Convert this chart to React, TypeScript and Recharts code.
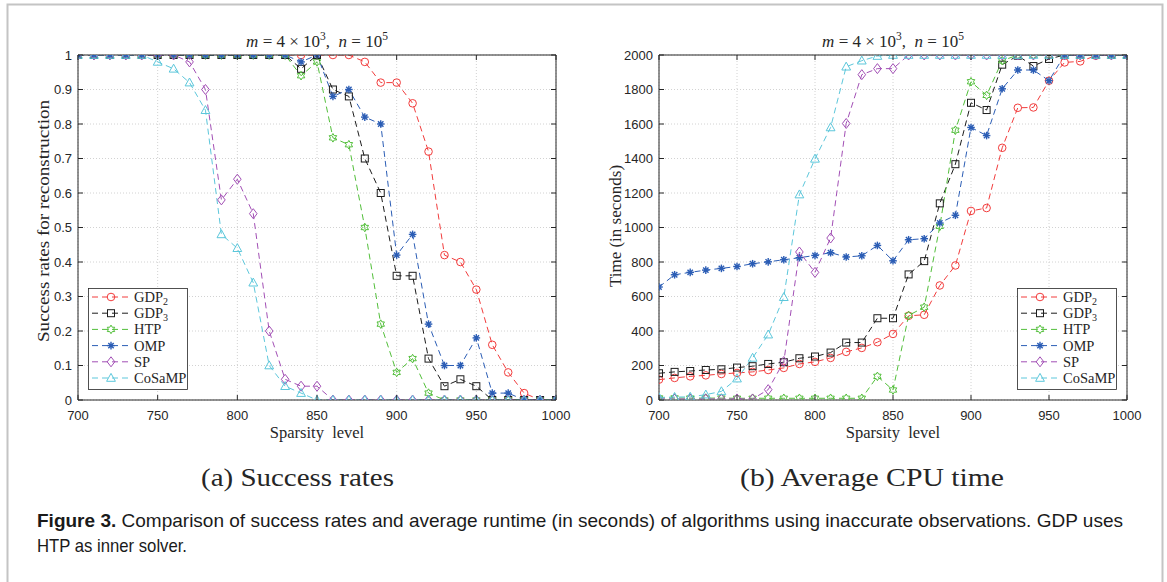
import React from 'react';
import { LineChart, Line, XAxis, YAxis, CartesianGrid } from 'recharts';

// ---------------- data ----------------
const sparsity = [700, 710, 720, 730, 740, 750, 760, 770, 780, 790, 800, 810, 820, 830, 840, 850, 860, 870, 880, 890, 900, 910, 920, 930, 940, 950, 960, 970, 980, 990, 1000];

const successGDP2 = [1, 1, 1, 1, 1, 1, 1, 1, 1, 1, 1, 1, 1, 1, 1, 1, 1, 1, 0.98, 0.92, 0.92, 0.86, 0.72, 0.42, 0.4, 0.32, 0.16, 0.08, 0.02, 0, 0];
const successGDP3 = [1, 1, 1, 1, 1, 1, 1, 1, 1, 1, 1, 1, 1, 1, 0.96, 1, 0.9, 0.88, 0.7, 0.6, 0.36, 0.36, 0.12, 0.04, 0.06, 0.04, 0, 0, 0, 0, 0];
const successHTP = [1, 1, 1, 1, 1, 1, 1, 1, 1, 1, 1, 1, 1, 1, 0.94, 0.98, 0.76, 0.74, 0.5, 0.22, 0.08, 0.12, 0.02, 0, 0, 0, 0, 0, 0, 0, 0];
const successOMP = [1, 1, 1, 1, 1, 1, 1, 1, 1, 1, 1, 1, 1, 1, 0.98, 1, 0.88, 0.9, 0.82, 0.8, 0.42, 0.48, 0.22, 0.1, 0.1, 0.18, 0.02, 0.02, 0, 0, 0];
const successSP = [1, 1, 1, 1, 1, 1, 1, 0.98, 0.9, 0.58, 0.64, 0.54, 0.2, 0.06, 0.04, 0.04, 0, 0, 0, 0, 0, 0, 0, 0, 0, 0, 0, 0, 0, 0, 0];
const successCoSaMP = [1, 1, 1, 1, 1, 0.98, 0.96, 0.92, 0.84, 0.48, 0.44, 0.34, 0.1, 0.04, 0.02, 0, 0, 0, 0, 0, 0, 0, 0, 0, 0, 0, 0, 0, 0, 0, 0];

const timeGDP2 = [118, 128, 137, 143, 151, 157, 163, 174, 186, 209, 221, 244, 279, 302, 335, 383, 488, 494, 664, 780, 1096, 1113, 1462, 1694, 1696, 1851, 1957, 1963, 1996, 2000, 2000];
const timeGDP3 = [155, 163, 168, 174, 178, 188, 196, 209, 219, 242, 252, 275, 333, 333, 474, 474, 728, 805, 1140, 1367, 1723, 1681, 1944, 1996, 1936, 1977, 2000, 2000, 2000, 2000, 2000];
const timeHTP = [12, 12, 11, 11, 11, 10, 10, 10, 10, 10, 10, 10, 10, 10, 137, 58, 490, 538, 1007, 1564, 1845, 1766, 1967, 2000, 2000, 2000, 2000, 2000, 2000, 2000, 2000];
const timeOMP = [655, 726, 740, 753, 763, 774, 790, 801, 813, 825, 838, 854, 829, 836, 896, 807, 929, 935, 1026, 1071, 1580, 1533, 1804, 1913, 1913, 1851, 2000, 2000, 2000, 2000, 2000];
const timeSP = [6, 6, 6, 6, 6, 6, 6, 60, 223, 858, 740, 939, 1603, 1886, 1921, 1921, 2000, 2000, 2000, 2000, 2000, 2000, 2000, 2000, 2000, 2000, 2000, 2000, 2000, 2000, 2000];
const timeCoSaMP = [15, 17, 18, 31, 50, 124, 244, 379, 596, 1191, 1398, 1580, 1932, 1967, 1994, 2000, 2000, 2000, 2000, 2000, 2000, 2000, 2000, 2000, 2000, 2000, 2000, 2000, 2000, 2000, 2000];

const xTicks = [700, 750, 800, 850, 900, 950, 1000];
const successTicks = [0, 0.1, 0.2, 0.3, 0.4, 0.5, 0.6, 0.7, 0.8, 0.9, 1];
const timeTicks = [0, 200, 400, 600, 800, 1000, 1200, 1400, 1600, 1800, 2000];

const seriesNames = ['GDP', 'GDP', 'HTP', 'OMP', 'SP', 'CoSaMP'];
const seriesSubs = ['2', '3', '', '', '', ''];

// ---------------- styling ----------------
const AX = '#262626';
const TICK_FONT = '"Liberation Sans", Arial, Helvetica, sans-serif';
const SERIF = '"Liberation Serif", "Times New Roman", serif';
const CAPTION_FONT = '"Liberation Sans Narrow", "Liberation Sans", Arial, sans-serif';

const seriesStyle = [
  { key: 'gdp2', color: '#f23c3c', marker: 'o' },
  { key: 'gdp3', color: '#1c1c1c', marker: 's' },
  { key: 'htp', color: '#52bf3a', marker: 'h' },
  { key: 'omp', color: '#2b5db5', marker: '*' },
  { key: 'sp', color: '#a24fb5', marker: 'd' },
  { key: 'cosamp', color: '#5cc7db', marker: '^' },
];

const successData = sparsity.map((s, i) => ({
  s,
  gdp2: successGDP2[i],
  gdp3: successGDP3[i],
  htp: successHTP[i],
  omp: successOMP[i],
  sp: successSP[i],
  cosamp: successCoSaMP[i],
}));

const timeData = sparsity.map((s, i) => ({
  s,
  gdp2: timeGDP2[i],
  gdp3: timeGDP3[i],
  htp: timeHTP[i],
  omp: timeOMP[i],
  sp: timeSP[i],
  cosamp: timeCoSaMP[i],
}));

function starPoints(cx: number, cy: number, ro: number, ri: number, n: number) {
  const pts: string[] = [];
  for (let k = 0; k < 2 * n; k++) {
    const r = k % 2 === 0 ? ro : ri;
    const a = -Math.PI / 2 + (k * Math.PI) / n;
    pts.push(`${cx + r * Math.cos(a)},${cy + r * Math.sin(a)}`);
  }
  return pts.join(' ');
}

function Marker({ kind, cx, cy, color }: { kind: string; cx: number; cy: number; color: string }) {
  const common = { fill: 'none', stroke: color, strokeWidth: 1 } as any;
  switch (kind) {
    case 'o':
      return <circle cx={cx} cy={cy} r={3.8} {...common} />;
    case 's':
      return <rect x={cx - 3.5} y={cy - 3.5} width={7} height={7} {...common} />;
    case 'h':
      return <polygon points={starPoints(cx, cy, 4.3, 2.5, 6)} {...common} />;
    case '*':
      return (
        <g stroke={color} strokeWidth={1.4}>
          <line x1={cx - 3.8} y1={cy} x2={cx + 3.8} y2={cy} />
          <line x1={cx} y1={cy - 3.8} x2={cx} y2={cy + 3.8} />
          <line x1={cx - 2.7} y1={cy - 2.7} x2={cx + 2.7} y2={cy + 2.7} />
          <line x1={cx - 2.7} y1={cy + 2.7} x2={cx + 2.7} y2={cy - 2.7} />
          <circle cx={cx} cy={cy} r={1.8} fill={color} stroke="none" />
        </g>
      );
    case 'd':
      return <polygon points={`${cx},${cy - 5} ${cx + 3.8},${cy} ${cx},${cy + 5} ${cx - 3.8},${cy}`} {...common} />;
    case '^':
      return <polygon points={`${cx},${cy - 4.6} ${cx + 4.4},${cy + 3.3} ${cx - 4.4},${cy + 3.3}`} {...common} />;
    default:
      return null;
  }
}

// ---------------- ticks (inward, box style) ----------------
const BottomTick = (props: any) => {
  const { x, y, payload } = props;
  return (
    <g>
      <line x1={x} y1={y} x2={x} y2={y - 5} stroke={AX} strokeWidth={1} />
      <text x={x} y={y + 19.5} textAnchor="middle" fontFamily={TICK_FONT} fontSize={13} fill={AX}>
        {payload.value}
      </text>
    </g>
  );
};
const TopTick = (props: any) => {
  const { x, y } = props;
  return <line x1={x} y1={y} x2={x} y2={y + 5} stroke={AX} strokeWidth={1} />;
};
const LeftTick = (props: any) => {
  const { x, y, payload } = props;
  return (
    <g>
      <line x1={x} y1={y} x2={x + 5} y2={y} stroke={AX} strokeWidth={1} />
      <text x={x - 6} y={y + 4.5} textAnchor="end" fontFamily={TICK_FONT} fontSize={13} fill={AX}>
        {String(payload.value)}
      </text>
    </g>
  );
};
const RightTick = (props: any) => {
  const { x, y } = props;
  return <line x1={x} y1={y} x2={x - 5} y2={y} stroke={AX} strokeWidth={1} />;
};

function Panel({ data, left, width, yTicks, yDomain }: any) {
  const yAxisW = 60;
  const rightW = 10;
  const plotLeft = left === 0 ? 78 : 659;
  const plotRight = left === 0 ? 556 : 1127;
  const margin = {
    top: 45,
    bottom: 10,
    left: plotLeft - left - yAxisW,
    right: left + width - plotRight - rightW,
  };
  return (
    <div style={{ position: 'absolute', left, top: 0 }}>
      <LineChart width={width} height={440} data={data} margin={margin}>
        <CartesianGrid stroke="#d2d2d2" strokeDasharray="1 2" strokeWidth={1} />
        <XAxis dataKey="s" type="number" domain={[700, 1000]} ticks={xTicks} interval={0} tickSize={0} tickMargin={0} tick={<BottomTick />} stroke={AX} height={30} allowDataOverflow />
        <XAxis xAxisId="top" dataKey="s" orientation="top" type="number" domain={[700, 1000]} ticks={xTicks} interval={0} tickSize={0} tickMargin={0} tick={<TopTick />} stroke={AX} height={10} allowDataOverflow />
        <YAxis type="number" domain={yDomain} ticks={yTicks} interval={0} tickSize={0} tickMargin={0} tick={<LeftTick />} stroke={AX} width={yAxisW} allowDataOverflow />
        <YAxis yAxisId="right" orientation="right" type="number" domain={yDomain} ticks={yTicks} interval={0} tickSize={0} tickMargin={0} tick={<RightTick />} stroke={AX} width={rightW} allowDataOverflow />
        {seriesStyle.map((st) => (
          <Line
            key={st.key}
            type="linear"
            dataKey={st.key}
            stroke={st.color}
            strokeWidth={1}
            strokeDasharray="6 4"
            isAnimationActive={false}
            activeDot={false}
            dot={(p: any) => <Marker key={`${st.key}-${p.index}`} kind={st.marker} cx={p.cx} cy={p.cy} color={st.color} />}
          />
        ))}
      </LineChart>
    </div>
  );
}

function LegendBox({ x, y }: { x: number; y: number }) {
  const w = 99;
  const h = 101;
  return (
    <g>
      <rect x={x + 0.5} y={y + 0.5} width={w} height={h} fill="#ffffff" stroke={AX} strokeWidth={0.8} />
      {seriesStyle.map((st, i) => {
        const cy = y + 9 + i * 16.2;
        return (
          <g key={st.key}>
            <line x1={x + 4} y1={cy} x2={x + 42} y2={cy} stroke={st.color} strokeWidth={1} strokeDasharray="6 4" />
            <Marker kind={st.marker} cx={x + 23} cy={cy} color={st.color} />
            <text x={x + 46} y={cy + 5} fontFamily={SERIF} fontSize={14.5} fill={AX}>
              {seriesNames[i]}
              {seriesSubs[i] ? (
                <tspan fontSize={10} dy={3}>
                  {seriesSubs[i]}
                </tspan>
              ) : null}
            </text>
          </g>
        );
      })}
    </g>
  );
}

function Title({ cx }: { cx: number }) {
  return (
    <text x={cx} y={47} textAnchor="middle" fontFamily={SERIF} fontSize={17} fill={AX} style={{ whiteSpace: 'pre' }}>
      <tspan fontStyle="italic">m</tspan>
      <tspan>{' = 4 \u00d7 10'}</tspan>
      <tspan fontSize={11.5} dy={-7}>3</tspan>
      <tspan dy={7}>{',  '}</tspan>
      <tspan fontStyle="italic">n</tspan>
      <tspan>{' = 10'}</tspan>
      <tspan fontSize={11.5} dy={-7}>5</tspan>
    </text>
  );
}

export default function App() {
  return (
    <div style={{ position: 'absolute', left: 0, top: 0, width: 1167, height: 582, background: '#ffffff', overflow: 'hidden' }}>
      <Panel data={successData} left={0} width={600} yTicks={successTicks} yDomain={[0, 1]} />
      <Panel data={timeData} left={590} width={577} yTicks={timeTicks} yDomain={[0, 2000]} />
      <svg width={1167} height={582} style={{ position: 'absolute', left: 0, top: 0, pointerEvents: 'none' }}>
        <path d="M7.5 582 V4.5 H1162.5 V582" fill="none" stroke="#c4c4c4" strokeWidth={2} />
        <Title cx={317} />
        <Title cx={893} />
        <text x={317} y={438} textAnchor="middle" fontFamily={SERIF} fontSize={16.5} fill={AX} style={{ whiteSpace: 'pre' }}>
          {'Sparsity  level'}
        </text>
        <text x={893} y={438} textAnchor="middle" fontFamily={SERIF} fontSize={16.5} fill={AX} style={{ whiteSpace: 'pre' }}>
          {'Sparsity  level'}
        </text>
        <text x={0} y={0} transform="translate(49 221) rotate(-90)" textAnchor="middle" fontFamily={SERIF} fontSize={17.5} fill={AX} textLength={242} lengthAdjust="spacingAndGlyphs">
          Success rates for reconstruction
        </text>
        <text x={0} y={0} transform="translate(621 226) rotate(-90)" textAnchor="middle" fontFamily={SERIF} fontSize={17} fill={AX}>
          Time (in seconds)
        </text>
        <LegendBox x={88} y={288} />
        <LegendBox x={1017} y={288} />
        <text x={297.5} y={486} textAnchor="middle" fontFamily={SERIF} fontSize={25} fill={AX} textLength={193} lengthAdjust="spacingAndGlyphs">
          (a) Success rates
        </text>
        <text x={872} y={486} textAnchor="middle" fontFamily={SERIF} fontSize={25} fill={AX} textLength={264} lengthAdjust="spacingAndGlyphs">
          (b) Average CPU time
        </text>
        <text x={37} y={527} fontFamily={CAPTION_FONT} fontSize={18.5} fill="#1a1a1a" textLength={1086} lengthAdjust="spacingAndGlyphs">
          <tspan fontWeight="bold">Figure 3.</tspan>
          <tspan> Comparison of success rates and average runtime (in seconds) of algorithms using inaccurate observations. GDP uses</tspan>
        </text>
        <text x={37} y={552} fontFamily={CAPTION_FONT} fontSize={18.5} fill="#1a1a1a" textLength={150} lengthAdjust="spacingAndGlyphs">
          HTP as inner solver.
        </text>
      </svg>
    </div>
  );
}
